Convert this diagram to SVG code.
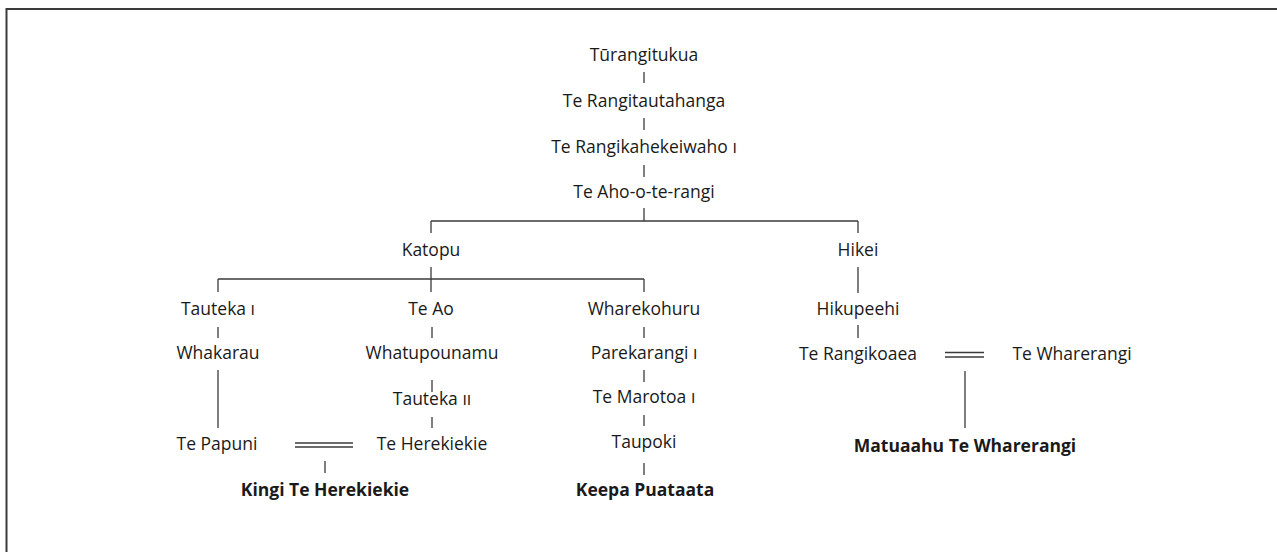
<svg xmlns="http://www.w3.org/2000/svg" width="1277" height="552" viewBox="0 0 1277 552">
<style>
text{font-family:"Open Sans","Noto Sans",sans-serif;font-size:17.5px;fill:#1a1a1a;text-anchor:middle}
.b{font-weight:bold}
#connectors line{stroke:#3a3a3a;stroke-width:1.3;fill:none}
</style>
<rect x="0" y="0" width="1277" height="552" fill="#fff"/>
<path d="M6.5 552 V9 H1277" fill="none" stroke="#3a3a3a" stroke-width="2"/>
<g id="connectors">
<line x1="644" y1="72" x2="644" y2="83"/>
<line x1="644" y1="118" x2="644" y2="130"/>
<line x1="644" y1="165" x2="644" y2="177"/>
<line x1="644" y1="208" x2="644" y2="221"/>
<line x1="431" y1="221" x2="858" y2="221"/>
<line x1="431" y1="221" x2="431" y2="233"/>
<line x1="858" y1="221" x2="858" y2="233"/>
<line x1="431" y1="267" x2="431" y2="292"/>
<line x1="218" y1="279" x2="644" y2="279"/>
<line x1="218" y1="279" x2="218" y2="292"/>
<line x1="644" y1="279" x2="644" y2="292"/>
<line x1="858" y1="267" x2="858" y2="293"/>
<line x1="218" y1="327" x2="218" y2="338"/>
<line x1="432" y1="327" x2="432" y2="338"/>
<line x1="644" y1="327" x2="644" y2="338"/>
<line x1="858" y1="325" x2="858" y2="338"/>
<line x1="218" y1="370" x2="218" y2="428"/>
<line x1="432" y1="380" x2="432" y2="392"/>
<line x1="432" y1="417" x2="432" y2="428"/>
<line x1="644" y1="370" x2="644" y2="382"/>
<line x1="644" y1="415" x2="644" y2="426"/>
<line x1="644" y1="463" x2="644" y2="475"/>
<line x1="295" y1="443" x2="353" y2="443"/>
<line x1="295" y1="447" x2="353" y2="447"/>
<line x1="325" y1="461" x2="325" y2="473"/>
<line x1="945" y1="352.5" x2="984" y2="352.5"/>
<line x1="945" y1="357" x2="984" y2="357"/>
<line x1="965" y1="371" x2="965" y2="428"/>
</g>
<g id="n-turangitukua"><text x="644" y="61">Tūrangitukua</text></g>
<g id="n-terangitautahanga"><text x="644" y="107">Te Rangitautahanga</text></g>
<g id="n-terangikahekeiwaho"><text x="644" y="153">Te Rangikahekeiwaho ı</text></g>
<g id="n-teaho"><text x="644" y="198">Te Aho-o-te-rangi</text></g>
<g id="n-katopu"><text x="431" y="256">Katopu</text></g>
<g id="n-hikei"><text x="858" y="256">Hikei</text></g>
<g id="n-tauteka1"><text x="218" y="315">Tauteka ı</text></g>
<g id="n-teao"><text x="431" y="315">Te Ao</text></g>
<g id="n-wharekohuru"><text x="644" y="315">Wharekohuru</text></g>
<g id="n-hikupeehi"><text x="858" y="315">Hikupeehi</text></g>
<g id="n-whakarau"><text x="218" y="359">Whakarau</text></g>
<g id="n-whatupounamu"><text x="432" y="359">Whatupounamu</text></g>
<g id="n-parekarangi"><text x="644" y="359">Parekarangi ı</text></g>
<g id="n-terangikoaea"><text x="858" y="360">Te Rangikoaea</text></g>
<g id="n-tewharerangi"><text x="1072" y="360">Te Wharerangi</text></g>
<g id="n-tauteka2"><text x="432" y="405">Tauteka ıı</text></g>
<g id="n-temarotoa"><text x="644" y="403">Te Marotoa ı</text></g>
<g id="n-tepapuni"><text x="217" y="450">Te Papuni</text></g>
<g id="n-teherekiekie"><text x="432" y="450">Te Herekiekie</text></g>
<g id="n-taupoki"><text x="644" y="448">Taupoki</text></g>
<g id="n-matuaahu"><text class="b" x="965" y="452">Matuaahu Te Wharerangi</text></g>
<g id="n-kingi"><text class="b" x="325" y="496">Kingi Te Herekiekie</text></g>
<g id="n-keepa"><text class="b" x="645" y="496">Keepa Puataata</text></g>
</svg>
